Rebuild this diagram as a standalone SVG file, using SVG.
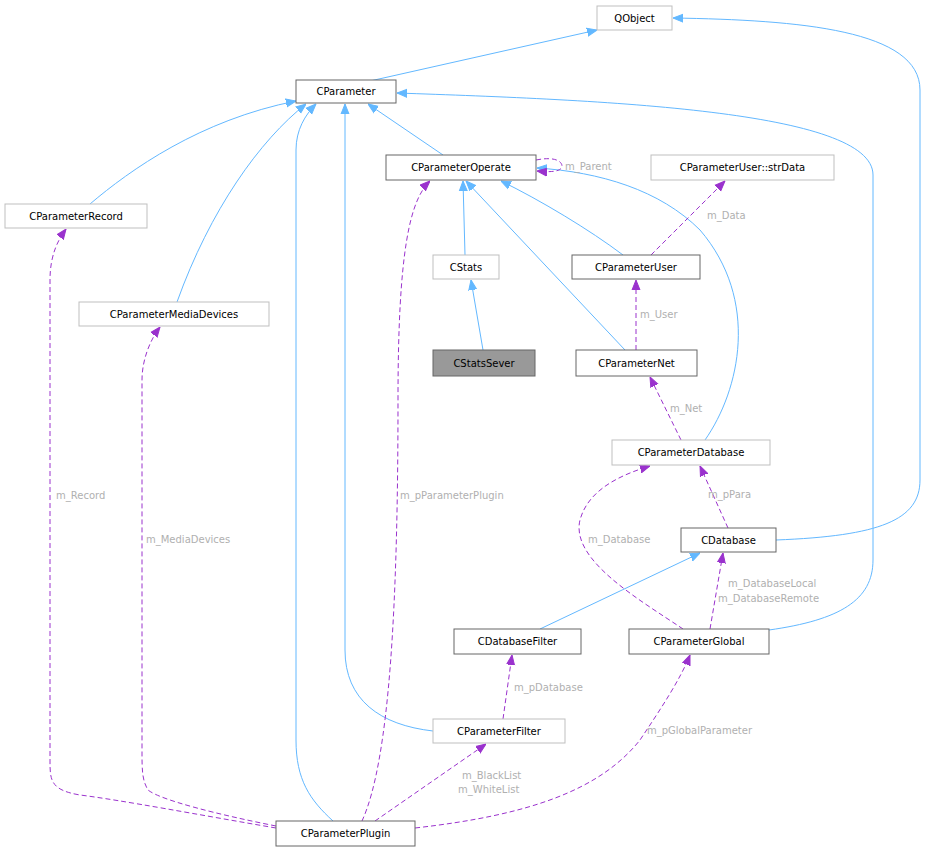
<svg xmlns="http://www.w3.org/2000/svg" width="929" height="852" viewBox="0 0 929 852">
<style>
.n rect{fill:#fff;stroke:#666;stroke-width:1}
.g rect{stroke:#bfbfbf}
.n text{font-family:"DejaVu Sans",sans-serif;font-size:10px;text-anchor:middle;fill:#000}
.i{fill:none;stroke:#63b8ff;stroke-width:1}
.u{fill:none;stroke:#9a32cd;stroke-width:1;stroke-dasharray:5,3}
.l{font-family:"DejaVu Sans",sans-serif;font-size:10px;fill:#b0b0b0}
</style>
<defs>
<marker id="b" viewBox="0 0 10 10" refX="10" refY="5" markerWidth="10" markerHeight="10" orient="auto" markerUnits="userSpaceOnUse"><path d="M0,1 L10,5 L0,9z" fill="#63b8ff" stroke="#63b8ff"/></marker>
<marker id="p" viewBox="0 0 10 10" refX="10" refY="5" markerWidth="10" markerHeight="10" orient="auto" markerUnits="userSpaceOnUse"><path d="M0,1 L10,5 L0,9z" fill="#9a32cd" stroke="#9a32cd"/></marker>
</defs>
<g id="edges">
<path class="i" marker-end="url(#b)" d="M370,81 L597,30"/>
<path class="i" marker-end="url(#b)" d="M776,540 C880,536 920,520 920,480 L920,90 C920,30 800,20 673,18"/>
<path class="i" marker-end="url(#b)" d="M90,204 C130,170 200,120 296,101"/>
<path class="i" marker-end="url(#b)" d="M177,302 C210,210 260,140 306,104"/>
<path class="i" marker-end="url(#b)" d="M333,821 C310,800 296,780 296,740 L296,150 C296,130 305,115 316,104"/>
<path class="i" marker-end="url(#b)" d="M433,731 C380,725 345,700 345,650 L345,104"/>
<path class="i" marker-end="url(#b)" d="M443,155 L368,104"/>
<path class="i" marker-end="url(#b)" d="M769,630 C840,620 873,600 873,560 L873,175 C873,110 600,100 397,93"/>
<path class="i" marker-end="url(#b)" d="M465,255 L463,181"/>
<path class="i" marker-end="url(#b)" d="M623,255 C590,230 540,200 501,181"/>
<path class="i" marker-end="url(#b)" d="M625,350 L466,181"/>
<path class="i" marker-end="url(#b)" d="M705,440 C740,390 760,300 700,230 C660,190 600,172 537,168"/>
<path class="i" marker-end="url(#b)" d="M483,350 L471,280"/>
<path class="i" marker-end="url(#b)" d="M540,629 L700,553"/>
<path class="u" marker-end="url(#p)" d="M536,160 C556,156 562,162 562,166 C562,170 556,173 537,171"/>
<path class="u" marker-end="url(#p)" d="M651,255 L725,181"/>
<path class="u" marker-end="url(#p)" d="M636,350 L636,280"/>
<path class="u" marker-end="url(#p)" d="M681,440 L650,377"/>
<path class="u" marker-end="url(#p)" d="M728,528 L700,466"/>
<path class="u" marker-end="url(#p)" d="M683,629 C640,600 570,560 580,520 C588,490 620,475 650,466"/>
<path class="u" marker-end="url(#p)" d="M710,629 L723,553"/>
<path class="u" marker-end="url(#p)" d="M503,719 L512,655"/>
<path class="u" marker-end="url(#p)" d="M415,828 C530,815 600,790 640,740 C660,710 680,680 690,655"/>
<path class="u" marker-end="url(#p)" d="M375,821 L486,744"/>
<path class="u" marker-end="url(#p)" d="M362,821 C390,760 398,600 398,400 C398,250 410,200 430,181"/>
<path class="u" marker-end="url(#p)" d="M276,828 C200,815 120,800 80,795 C50,790 50,780 50,760 L50,280 C50,255 58,240 66,229"/>
<path class="u" marker-end="url(#p)" d="M276,826 C220,815 160,800 148,790 C142,780 142,770 142,750 L142,380 C142,360 150,340 160,327"/>
</g>
<g class="l">
<text x="565" y="170">m_Parent</text>
<text x="707" y="219">m_Data</text>
<text x="640" y="318">m_User</text>
<text x="670" y="412">m_Net</text>
<text x="708" y="498">m_pPara</text>
<text x="588" y="543">m_Database</text>
<text x="728" y="587">m_DatabaseLocal</text>
<text x="718" y="602">m_DatabaseRemote</text>
<text x="514" y="691">m_pDatabase</text>
<text x="647" y="734">m_pGlobalParameter</text>
<text x="462" y="779">m_BlackList</text>
<text x="458" y="793">m_WhiteList</text>
<text x="400" y="499">m_pParameterPlugin</text>
<text x="56" y="499">m_Record</text>
<text x="146" y="543">m_MediaDevices</text>
</g>
<g id="QObject" class="n g"><rect x="597" y="6" width="75" height="24"/><text x="634.5" y="22">QObject</text></g>
<g id="CParameter" class="n"><rect x="296" y="80" width="100" height="23"/><text x="346" y="95">CParameter</text></g>
<g id="CParameterRecord" class="n g"><rect x="5" y="204" width="142" height="24"/><text x="76" y="220">CParameterRecord</text></g>
<g id="CParameterOperate" class="n"><rect x="386" y="155" width="150" height="25"/><text x="461" y="171">CParameterOperate</text></g>
<g id="strData" class="n g"><rect x="651" y="155" width="183" height="25"/><text x="742.5" y="171">CParameterUser::strData</text></g>
<g id="CStats" class="n g"><rect x="433" y="255" width="66" height="24"/><text x="466" y="271">CStats</text></g>
<g id="CParameterUser" class="n"><rect x="572" y="255" width="128" height="24"/><text x="636" y="271">CParameterUser</text></g>
<g id="CParameterMediaDevices" class="n g"><rect x="79" y="302" width="190" height="24"/><text x="174" y="318">CParameterMediaDevices</text></g>
<g id="CStatsSever" class="n"><rect x="433" y="350" width="102" height="26" style="fill:#999"/><text x="484" y="367">CStatsSever</text></g>
<g id="CParameterNet" class="n"><rect x="576" y="350" width="121" height="26"/><text x="636.5" y="367">CParameterNet</text></g>
<g id="CParameterDatabase" class="n g"><rect x="612" y="440" width="158" height="25"/><text x="691" y="456">CParameterDatabase</text></g>
<g id="CDatabase" class="n"><rect x="681" y="528" width="95" height="24"/><text x="728.5" y="544">CDatabase</text></g>
<g id="CDatabaseFilter" class="n"><rect x="454" y="629" width="127" height="25"/><text x="517.5" y="645">CDatabaseFilter</text></g>
<g id="CParameterGlobal" class="n"><rect x="629" y="629" width="140" height="25"/><text x="699" y="645">CParameterGlobal</text></g>
<g id="CParameterFilter" class="n g"><rect x="433" y="719" width="132" height="24"/><text x="499" y="735">CParameterFilter</text></g>
<g id="CParameterPlugin" class="n"><rect x="276" y="821" width="139" height="25"/><text x="345.5" y="837">CParameterPlugin</text></g>
</svg>
